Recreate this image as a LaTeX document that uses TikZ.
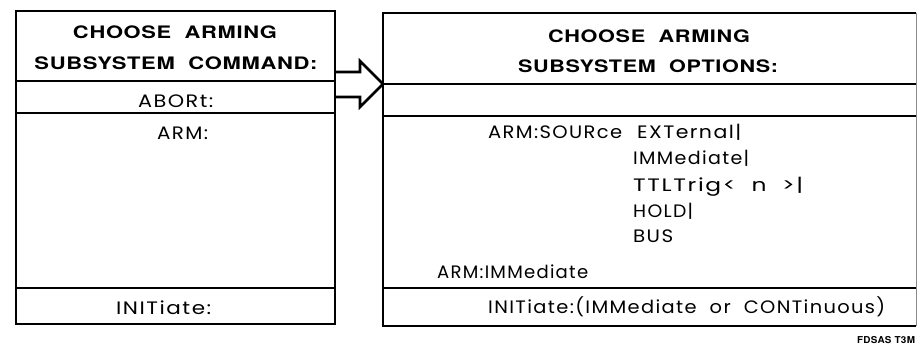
\documentclass[tikz,border=0pt]{standalone}
\usepackage{fontspec}
\usepackage{graphicx}
\setmainfont{Poppins}[LetterSpace=7]
\newfontfamily\hdfont{TeX Gyre Heros}[LetterSpace=3]
\newcommand{\fw}[2]{\resizebox{#1pt}{\height}{#2}}
\begin{document}
\begin{tikzpicture}[x=1pt,y=-1pt,
  boxline/.style={line width=1.6pt},
  faintline/.style={line width=0.9pt, black!45},
  hdtext/.style={inner sep=0pt, anchor=base, font=\hdfont\bfseries\fontsize{17.2}{18}\selectfont},
  bodyw/.style={inner sep=0pt, anchor=base west, font=\fontsize{18}{20}\selectfont},
  tagtext/.style={inner sep=0pt, anchor=base, font=\hdfont\bfseries\fontsize{9.5}{10}\selectfont},
  fat/.style={line width=2.6pt, line join=miter}]
\useasboundingbox (0,0) rectangle (917,345);
\fill[white] (0,0) rectangle (917,345);
% left box
\node[draw, boxline, anchor=north west, minimum width=319pt, minimum height=313pt, inner sep=0pt] (L) at (15,10) {};
\draw[boxline] (15,81) -- (334,81);
\draw[boxline] (15,113) -- (334,113);
\draw[boxline] (15,288) -- (334,288);
% right box
\coordinate (R) at (383,84);
\draw[boxline] (916,13) -- (383,13) -- (383,326) -- (916,326);
\draw[faintline] (916,13) -- (916,326);
\draw[boxline] (383,84) -- (916,84);
\draw[boxline] (383,116) -- (916,116);
\draw[boxline] (383,288) -- (916,288);
% arrow
\coordinate (aT) at (L.east |- 0,72);
\coordinate (aB) at (L.east |- 0,97);
\draw[fat] (aT) -- (360,72) -- (360,61) -- (R) -- (360,107) -- (360,97) -- (aB);
% left texts
\node[hdtext] (lh1) at (175,39) {\fw{204}{CHOOSE\ \ ARMING}};
\node[hdtext] (lh2) at (176,69) {\fw{283}{SUBSYSTEM\ \ COMMAND:}};
\node[bodyw] (abort) at (138,107) {\fw{75}{ABORt:}};
\node[bodyw] (arm) at (157,139) {\fw{51}{ARM:}};
\node[bodyw] (init) at (116,314) {\fw{95}{INITiate:}};
% right texts
\node[hdtext] (rh1) at (649,43) {\fw{202}{CHOOSE\ \ ARMING}};
\node[hdtext] (rh2) at (648,72) {\fw{260}{SUBSYSTEM\ \ OPTIONS:}};
\node[bodyw] (src) at (488,138) {\fw{134}{ARM:SOURce}};
\node[bodyw] (ext) at (637,138) {\fw{104}{EXTernal|}};
\node[bodyw] (imm) at (633,164) {\fw{116}{IMMediate|}};
\node[bodyw] (ttl) at (633,191) {\fw{170}{TTLTrig<\ \ n\ \ >|}};
\node[bodyw] (hold) at (633,217) {\fw{60}{HOLD|}};
\node[bodyw] (bus) at (633,242) {\fw{40}{BUS}};
\node[bodyw] (armimm) at (437,278) {\fw{151}{ARM:IMMediate}};
\node[bodyw] (rinit) at (488,313) {\fw{397}{INITiate:(IMMediate\ \ or\ \ CONTinuous)}};
\node[tagtext] (tag) at (886,343) {\fw{58}{FDSAS\ T3M}};
\end{tikzpicture}
\end{document}
